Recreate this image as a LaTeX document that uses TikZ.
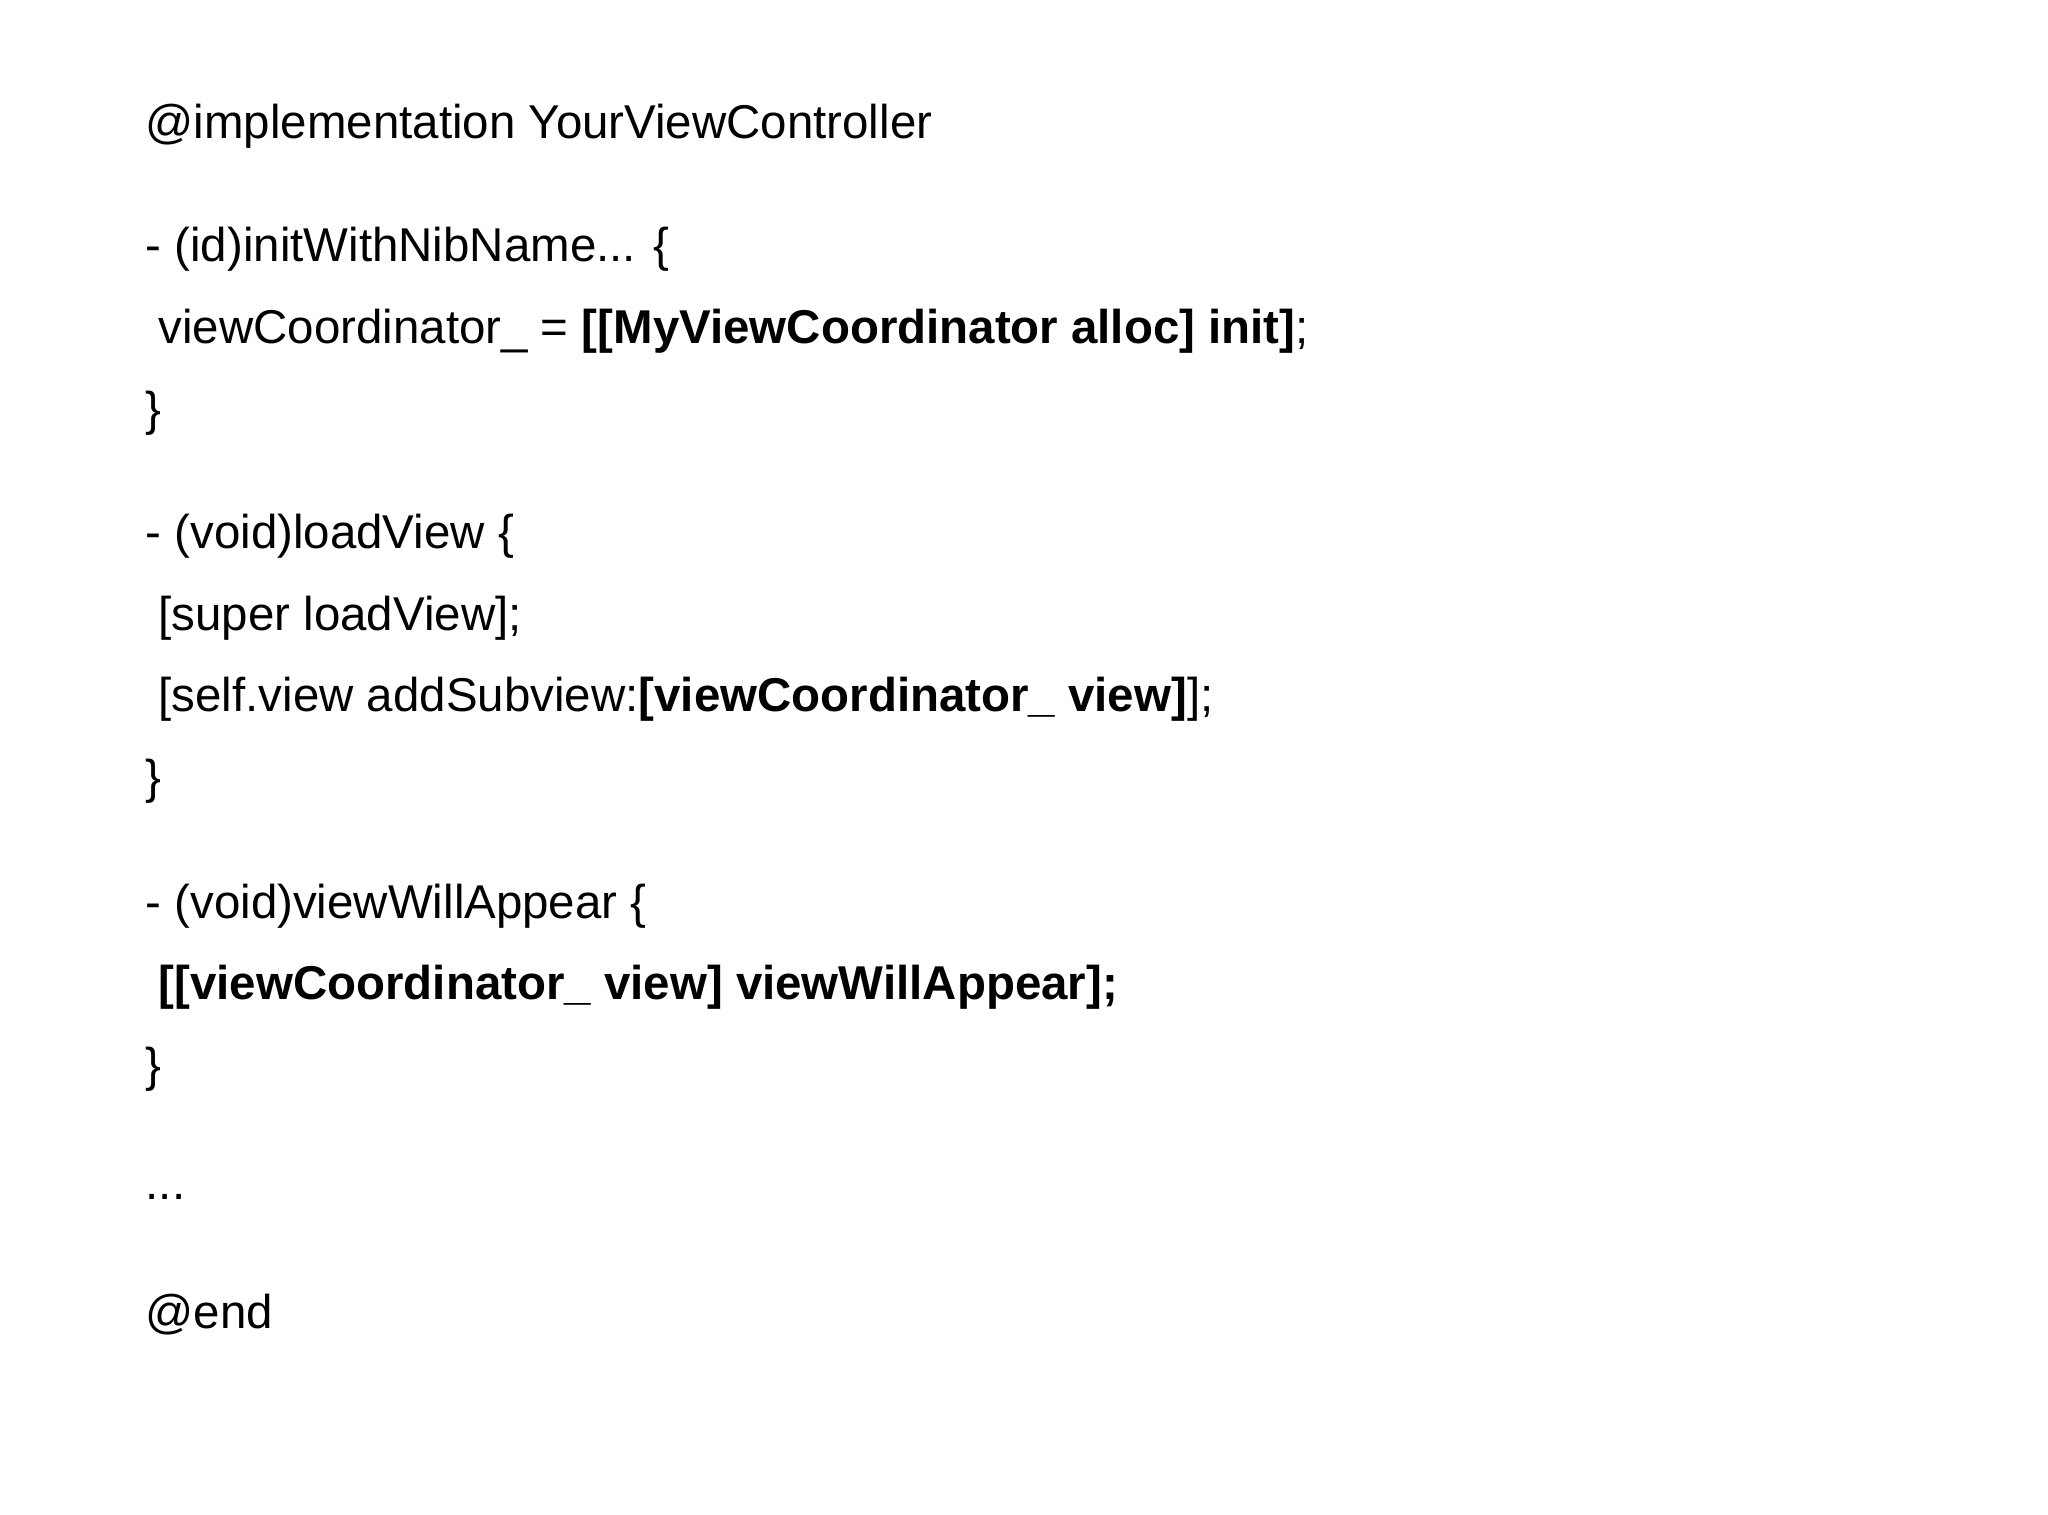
\documentclass[tikz,border=0pt]{standalone}
\usepackage{fontspec}
\setmainfont{Liberation Sans}
\begin{document}
\begin{tikzpicture}[x=1cm,y=1cm,code/.style={anchor=base west,inner sep=0pt,font=\fontsize{13.5}{16}\selectfont}]
\useasboundingbox (0,0) rectangle (20.48,-15.15);
\begin{scope}[yshift=0.1cm]
\node[code] (l1) at (1.45,-1.48) {@implementation YourViewController};
\node[code] (l2) at (1.45,-2.71) {- (id)initWithNibName... \{};
\node[code] (l3) at (1.58,-3.53) {viewCoordinator\_ = \textbf{[[MyViewCoordinator alloc] init]};};
\node[code] (l4) at (1.45,-4.35) {\}};
\node[code] (l5) at (1.45,-5.58) {- (void)loadView \{};
\node[code] (l6) at (1.58,-6.40) {[super loadView];};
\node[code] (l7) at (1.58,-7.21) {[self.view addSubview:\textbf{[viewCoordinator\_ view]}];};
\node[code] (l8) at (1.45,-8.03) {\}};
\node[code] (l9) at (1.45,-9.28) {- (void)viewWillAppear \{};
\node[code] (l10) at (1.58,-10.09) {\textbf{[[viewCoordinator\_ view] viewWillAppear];}};
\node[code] (l11) at (1.45,-10.91) {\}};
\node[code] (l12) at (1.45,-12.09) {...};
\node[code] (l13) at (1.45,-13.38) {@end};
\end{scope}
\end{tikzpicture}
\end{document}
